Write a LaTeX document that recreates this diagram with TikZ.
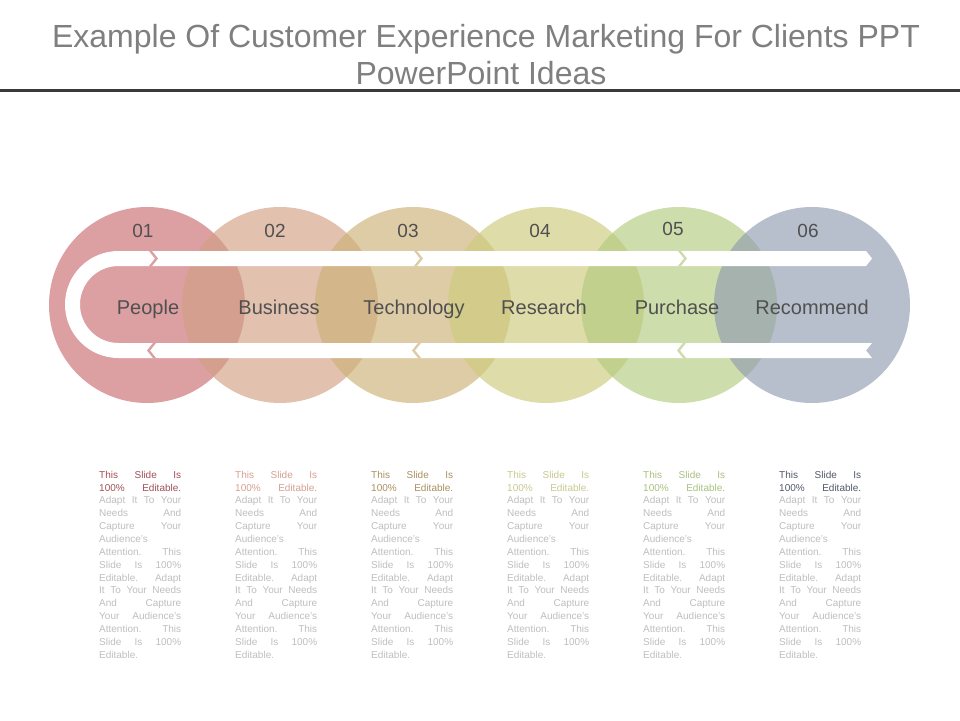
\documentclass[tikz,border=0pt]{standalone}
\usepackage{fontspec}
\setmainfont{Liberation Sans}
\usetikzlibrary{calc,positioning}

\definecolor{cA}{RGB}{201,109,113}
\definecolor{cB}{RGB}{210,160,132}
\definecolor{cC}{RGB}{204,177,118}
\definecolor{cD}{RGB}{204,203,124}
\definecolor{cE}{RGB}{178,203,126}
\definecolor{cF}{RGB}{144,155,177}
\definecolor{tA}{RGB}{160,80,88}
\definecolor{tB}{RGB}{212,160,144}
\definecolor{tC}{RGB}{168,144,96}
\definecolor{tD}{RGB}{200,200,144}
\definecolor{tE}{RGB}{168,192,128}
\definecolor{tF}{RGB}{80,88,104}
\definecolor{titlegray}{RGB}{127,127,127}
\definecolor{rulegray}{RGB}{58,58,58}
\definecolor{labgray}{RGB}{80,80,80}
\definecolor{blurbgray}{RGB}{190,190,190}

\newcommand{\blurb}[1]{{\color{#1}This Slide Is\linebreak 100\% Editable.}\linebreak
Adapt It To Your\linebreak Needs And\linebreak Capture Your\linebreak Audience's\linebreak
Attention. This\linebreak Slide Is 100\%\linebreak Editable. Adapt\linebreak
It To Your Needs\linebreak And Capture\linebreak Your Audience's\linebreak
Attention. This\linebreak Slide Is 100\%\linebreak Editable.}

\begin{document}
\begin{tikzpicture}[x=1pt,y=-1pt,
  ring/.style={circle,minimum size=196pt,inner sep=0pt,fill=#1,fill opacity=.65},
  gapfill/.style={fill=#1,fill opacity=.65},
  num/.style={anchor=base,font=\fontsize{19}{19}\selectfont,text=labgray},
  lab/.style={anchor=base,font=\fontsize{20}{20}\selectfont,text=labgray},
  blurbtext/.style={anchor=north west,inner sep=0pt,text width=82pt,align=justify,
    font=\fontsize{10}{12.86}\selectfont,text=blurbgray}]
\useasboundingbox (0,0) rectangle (960,720);
\node[anchor=base,font=\fontsize{32}{32}\selectfont,text=titlegray] (title1) at (486,47)
  {Example Of Customer Experience Marketing For Clients PPT};
\node[anchor=base,font=\fontsize{32}{32}\selectfont,text=titlegray] (title2) at (481,84)
  {PowerPoint Ideas};
\draw[line width=3.5pt,rulegray] (0,90.5) -- (960,90.5);
% circles
\foreach \i/\x/\col in {1/147/cA,2/280/cB,3/413/cC,4/546/cD,5/679/cE,6/812/cF}
  \node[ring=\col] (c\i) at (\x,305) {};
% white arrow band
\fill[white] (118.5,251) -- (866,251) -- (872,258.5) -- (866,266) -- (118.5,266)
  arc[start angle=270,end angle=90,radius=38.5] -- (872,343) -- (866,350.5) -- (872,358)
  -- (118.5,358) arc[start angle=90,end angle=270,radius=53.5] -- cycle;
\foreach \c/\col in {155/cA,420/cC,684/cE}
  \fill[gapfill=\col] (\c-6,251) -- (\c-3,251) -- (\c+3,258.5) -- (\c-3,266) -- (\c-6,266) -- (\c,258.5) -- cycle;
\foreach \c/\col in {150/cA,415/cC,680/cE}
  \fill[gapfill=\col] (\c+6,343) -- (\c+3,343) -- (\c-3,350.5) -- (\c+3,358) -- (\c+6,358) -- (\c,350.5) -- cycle;
% numbers and labels
\foreach \i/\x/\y in {1/143/237,2/275/237,3/408/237,4/540/237,5/673/235,6/808/237}
  \node[num] (n\i) at (\x,\y) {0\i};
\foreach \i/\x/\lab in {1/148/People,2/279/Business,3/414/Technology,4/544/Research,5/677/Purchase,6/812/Recommend}
  \node[lab] (l\i) at (\x,314) {\lab};
% text blocks
\foreach \i/\x/\col in {1/99/tA,2/235/tB,3/371/tC,4/507/tD,5/643/tE,6/779/tF}
  \node[blurbtext] (b\i) at (\x,470.7) {\blurb{\col}};
\end{tikzpicture}
\end{document}
